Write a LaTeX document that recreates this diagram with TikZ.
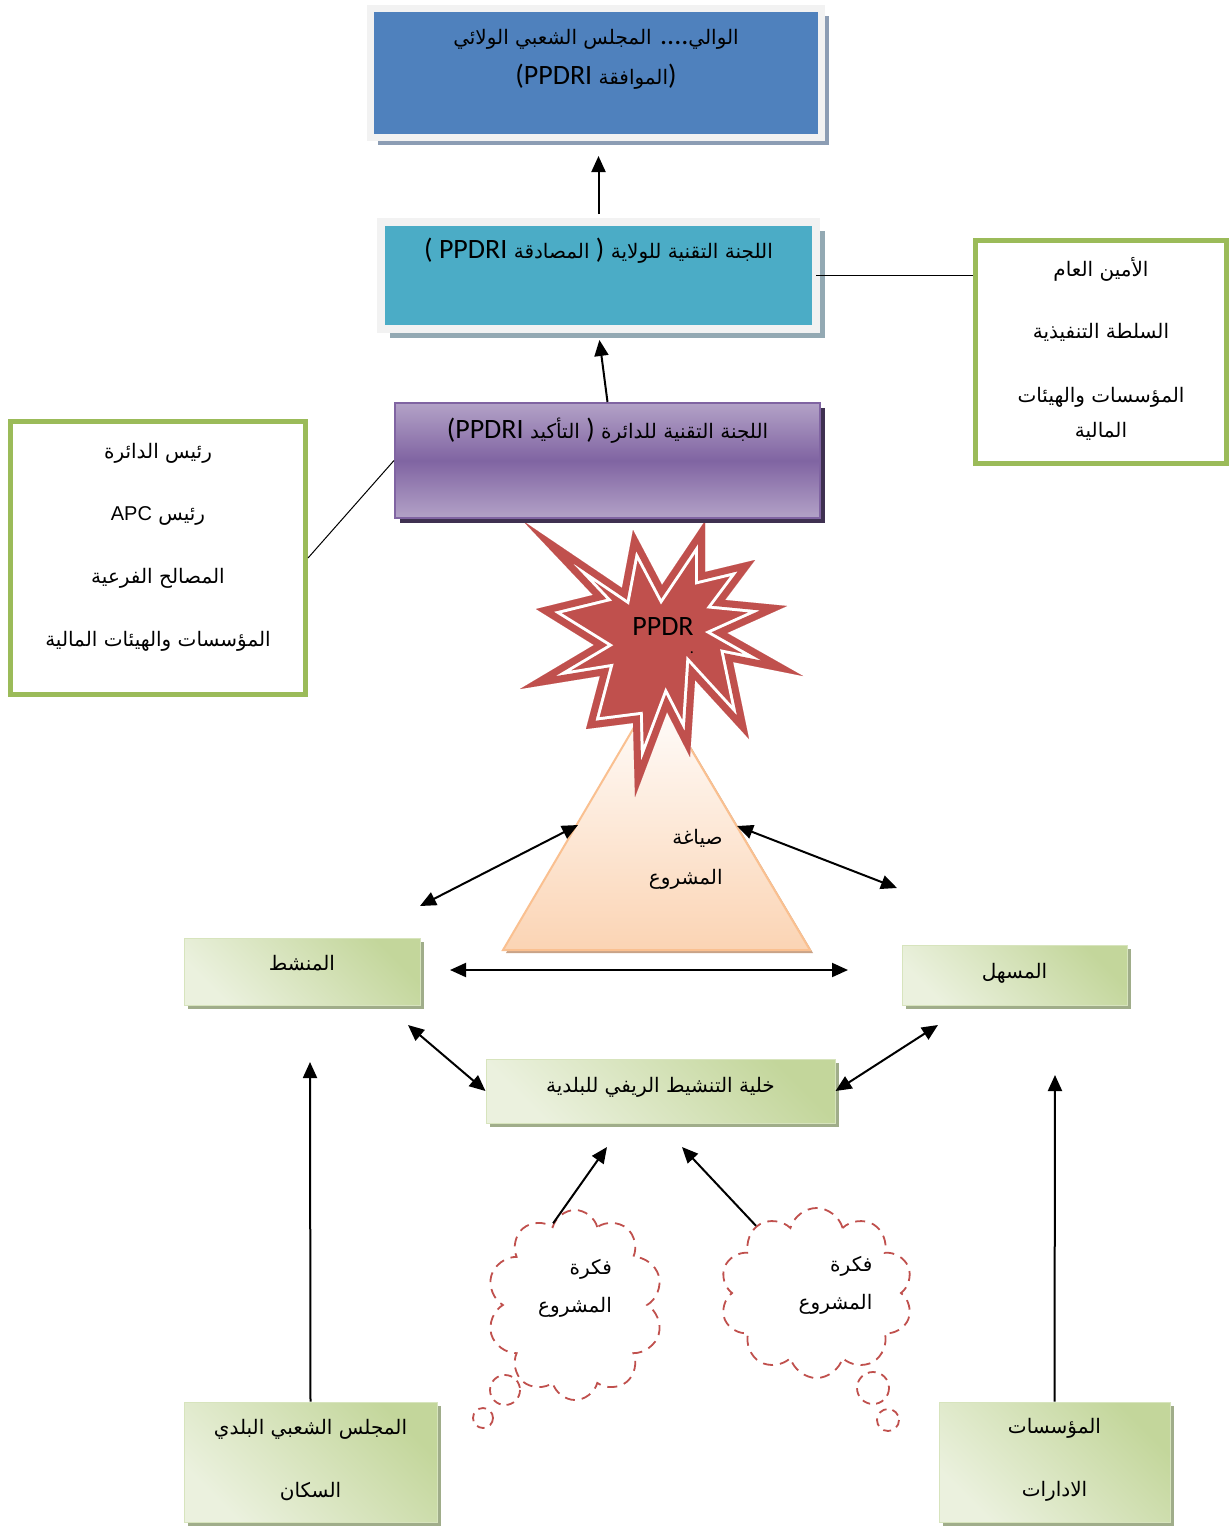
\documentclass[tikz,border=0pt]{standalone}
\usepackage{fontspec}
\setmainfont{Liberation Sans}
\newfontfamily\arabicfont[Script=Arabic]{DejaVu Sans}
\newfontfamily\calibfont{Carlito}
\newfontfamily\arialfont{Liberation Sans}
\TeXXeTstate=1
\usetikzlibrary{arrows.meta,shapes.symbols,shadows}
\definecolor{waliblue}{HTML}{4F81BD}
\definecolor{wilayacyan}{HTML}{4BACC6}
\definecolor{framegray}{HTML}{F2F2F2}
\definecolor{walishadow}{HTML}{8C9DB4}
\definecolor{wilayashadow}{HTML}{93A9B3}
\definecolor{dairalight}{HTML}{B3A2C7}
\definecolor{dairadark}{HTML}{8064A2}
\definecolor{dairashadow}{HTML}{3F3151}
\definecolor{panelgreen}{HTML}{9BBB59}
\definecolor{boxgreen}{HTML}{C3D69B}
\definecolor{boxlight}{HTML}{EBF1DE}
\definecolor{boxedge}{HTML}{D7E4BD}
\definecolor{boxshadow}{HTML}{A0AD8A}
\definecolor{burstred}{HTML}{C0504D}
\definecolor{peach}{HTML}{FBD4B4}
\definecolor{peachedge}{HTML}{FAC090}
\definecolor{peachshadow}{HTML}{C9A387}
\newcommand{\artext}[1]{\beginR #1\endR}
\newcommand{\lat}[1]{\beginL{\calibfont\fontsize{14}{15}\selectfont #1}\endL}
\newcommand{\burstpath}{(523,521) -- (622,588) -- (633,530) -- (662,585) -- (705,521)
 -- (705,572) -- (755,560) -- (725,600) -- (787,606) -- (727,633) -- (803,676)
 -- (733,662) -- (749,739) -- (695,680) -- (690,757) -- (667,712) -- (635,797)
 -- (633,723) -- (586,729) -- (600,676) -- (520,689) -- (594,645) -- (536,609)
 -- (593,595) -- cycle}

\begin{document}
\begin{tikzpicture}[x=0.5pt,y=-0.5pt,
 every node/.style={font=\arabicfont\fontsize{10}{13}\selectfont},
 txt/.style 2 args={text height=#1,text depth=#2},
 framebox/.style={draw=framegray,line width=#1,inner sep=0pt,align=center},
 panel/.style={draw=panelgreen,line width=2.5pt,fill=white,inner sep=0pt,align=center},
 greenbox/.style={draw=boxedge,line width=.5pt,top color=boxlight,bottom color=boxgreen,
  shading angle=135,inner sep=0pt,align=center,
  drop shadow={shadow xshift=2pt,shadow yshift=-2pt,fill=boxshadow,opacity=1}},
 idea/.style={cloud,cloud puffs=10,cloud ignores aspect,draw=burstred,
  dash pattern=on 5pt off 3.5pt,line width=.9pt,inner sep=0pt,align=right},
 bubble/.style={draw=burstred,dash pattern=on 4pt off 3pt,line width=.9pt},
 arr/.style={-{Triangle[length=8pt,width=7pt]},line width=1pt},
 dbl/.style={{Triangle[length=8pt,width=7pt]}-{Triangle[length=8pt,width=7pt]},line width=1pt},
 thinline/.style={line width=.5pt}]
\useasboundingbox (0,0) rectangle (1229,1526);
\fill[white] (0,0) rectangle (1229,1526);

% formulation triangle and PPDR burst
\fill[peachshadow] (506,953) -- (813,953) -- (659,693) -- cycle;
\draw[peachedge,line width=1pt,top color=white,bottom color=peach]
 (503,950) -- (810,950) -- (656,690) -- cycle;
\fill[burstred] \burstpath;
\begin{scope}
\clip \burstpath;
\draw[white,line width=10pt] \burstpath;
\draw[burstred,line width=7pt] \burstpath;
\end{scope}
\node[font=\calibfont\fontsize{14}{15}\selectfont] (ppdr) at (663,627) {PPDR};
\node[font=\calibfont\fontsize{8}{9}\selectfont] (dot) at (692,653) {.};
\node[anchor=east,inner sep=0pt,align=right,txt={30pt}{4pt}] (form) at (723,858)
 {\artext{صياغة}\\[7pt]\artext{المشروع}};

% committees
\node[framebox=3.5pt,fill=waliblue,minimum width=225.5pt,minimum height=64.5pt,txt={15pt}{4pt},
 drop shadow={shadow xshift=3.75pt,shadow yshift=-3.75pt,fill=walishadow,opacity=1}]
 (wali) at (596,73)
 {\artext{الوالي\lat{....} المجلس الشعبي الولائي}\\[7pt]\artext{\lat{)}الموافقة \lat{(PPDRI}}};
\node[framebox=4pt,fill=wilayacyan,minimum width=217.5pt,minimum height=53.5pt,txt={10pt}{27.5pt},
 drop shadow={shadow xshift=4.5pt,shadow yshift=-4.5pt,fill=wilayashadow,opacity=1}]
 (wilaya) at (598.5,275.5)
 {\artext{اللجنة التقنية للولاية \lat{)} المصادقة \lat{PPDRI} \lat{(}}};
\node[draw=dairadark,line width=1pt,top color=dairalight,bottom color=dairalight,
 middle color=dairadark,inner sep=0pt,minimum width=212.5pt,minimum height=57.5pt,txt={10pt}{32.5pt},
 drop shadow={shadow xshift=2.5pt,shadow yshift=-2.5pt,fill=dairashadow,opacity=1}]
 (daira) at (607.5,460.5)
 {\artext{اللجنة التقنية للدائرة \lat{)} التأكيد \lat{(PPDRI}}};

% members
\node[panel,minimum width=147.5pt,minimum height=136.5pt,txt={92pt}{4pt}] (lbox) at (158,558)
 {\artext{رئيس الدائرة}\\[18.3pt]\artext{رئيس \beginL{\arialfont APC}\endL}\\[18.3pt]
  \artext{المصالح الفرعية}\\[18.3pt]\artext{المؤسسات والهيئات المالية}};
\node[panel,minimum width=125.5pt,minimum height=111.5pt,txt={89pt}{4pt}] (rbox) at (1101,352)
 {\artext{الأمين العام}\\[18pt]\artext{السلطة التنفيذية}\\[19pt]
  \artext{المؤسسات والهيئات}\\[4.5pt]\artext{المالية}};

% actors
\node[greenbox,minimum width=118pt,minimum height=33.5pt,txt={10pt}{11.5pt}] (anim) at (302,971.5)
 {\artext{المنشط}};
\node[greenbox,minimum width=112.5pt,minimum height=30pt,txt={10pt}{7pt}] (facil) at (1014.5,975)
 {\artext{المسهل}};
\node[greenbox,minimum width=174.5pt,minimum height=32pt,txt={10pt}{9pt}] (cell) at (660.5,1091)
 {\artext{خلية التنشيط الريفي للبلدية}};
\node[greenbox,minimum width=126.5pt,minimum height=60pt,txt={39pt}{4pt}] (apc) at (310.5,1462)
 {\artext{المجلس الشعبي البلدي}\\[18.5pt]\artext{السكان}};
\node[greenbox,minimum width=115.5pt,minimum height=60pt,txt={38pt}{4pt}] (inst) at (1054.5,1462)
 {\artext{المؤسسات}\\[18.5pt]\artext{الادارات}};

% project ideas
\node[idea,minimum width=88pt,minimum height=95pt,txt={11pt}{4pt}] (idea1) at (575,1305)
 {\artext{فكرة}\\[6pt]\artext{المشروع}};
\node[idea,minimum width=96.5pt,minimum height=85pt,txt={20pt}{4pt}] (idea2) at (816.5,1293)
 {\artext{فكرة}\\[6pt]\hspace*{19pt}\artext{المشروع}};
\draw[bubble] (505,1390) circle [radius=15];
\draw[bubble] (483,1418) circle [radius=10];
\draw[bubble] (873,1388) circle [radius=16];
\draw[bubble] (888,1420) circle [radius=11];

% free ends
\coordinate (animNE) at (420,906);
\coordinate (triL) at (578,825);
\coordinate (triR) at (737,826);
\coordinate (facilNW) at (897,888);
\coordinate (midL) at (450,970);
\coordinate (midR) at (848,970);
\coordinate (animSE) at (408,1025);
\coordinate (facilSW) at (938,1025);
\coordinate (cellL) at (607,1147);
\coordinate (cellR) at (682,1147);
\coordinate (animS) at (310,1062);
\coordinate (facilS) at (1055,1075);

\draw[arr,shorten >=3.5pt] (daira.north) -- (wilaya.south);
\draw[arr,shorten <=2pt,shorten >=7.5pt] (wilaya.north) -- (wali.south -| wilaya.north);
\draw[thinline] (daira.west) -- (lbox.east);
\draw[thinline,shorten <=-2pt] (wilaya.east) -- (rbox.west |- wilaya.east);
\draw[dbl] (animNE) -- (triL);
\draw[dbl] (triR) -- (facilNW);
\draw[dbl] (midL) -- (midR);
\draw[dbl] (animSE) -- (cell.west);
\draw[dbl] (facilSW) -- (cell.east);
\draw[arr] (idea1.105) -- (cellL);
\draw[arr] (idea2.132) -- (cellR);
\draw[arr] (apc.north) -- (animS);
\draw[arr] (inst.north) -- (facilS);
\end{tikzpicture}
\end{document}
